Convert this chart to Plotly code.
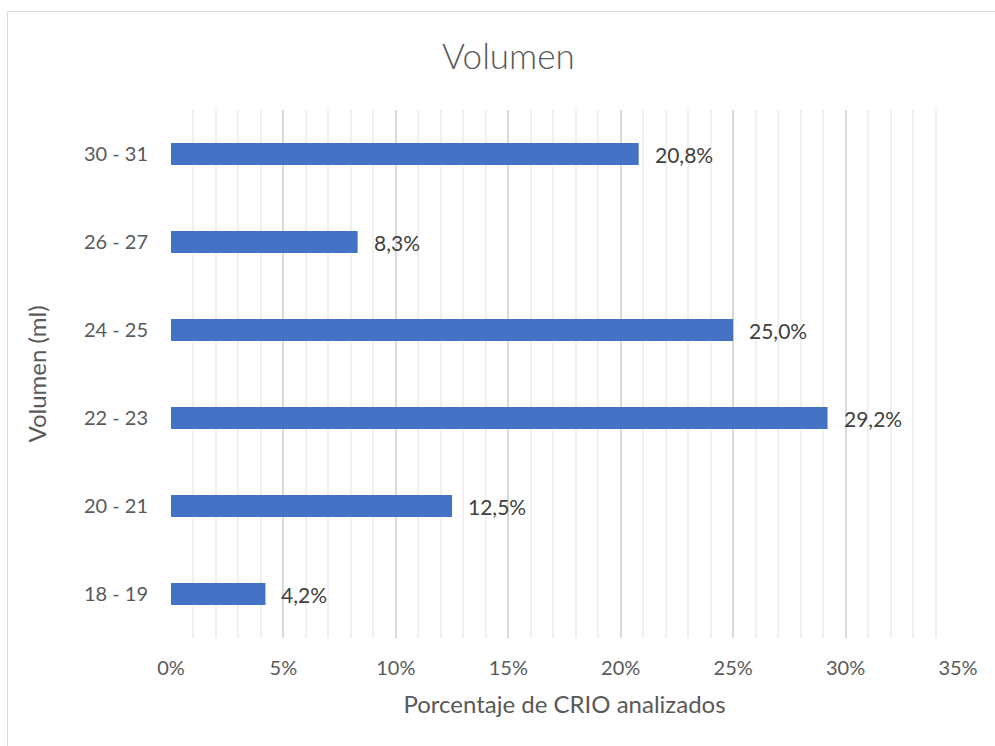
import plotly.graph_objects as go

# Volume ranges (ml) and the share of CRIO units analysed in each
categories = ["18 - 19", "20 - 21", "22 - 23", "24 - 25", "26 - 27", "30 - 31"]
percentages = [4.2, 12.5, 29.2, 25.0, 8.3, 20.8]
tick_values = [0, 5, 10, 15, 20, 25, 30, 35]
tick_labels = [f"{v}%" for v in tick_values]

FONT = "Lato, 'Open Sans', sans-serif"
TEXT = "#595959"

fig = go.Figure(
    go.Bar(
        x=percentages,
        y=categories,
        orientation="h",
        marker=dict(color="#4472C4", line=dict(width=0)),
        hoverinfo="x+y",
    )
)

# Value labels placed just to the right of each bar
for cat, val in zip(categories, percentages):
    fig.add_annotation(
        x=val, y=cat, xref="x", yref="y",
        text=f"{val:.1f}%".replace(".", ","),
        showarrow=False, xanchor="left", xshift=14,
        font=dict(family=FONT, size=21, color="#404040"),
    )

# Light frame around the whole chart
fig.add_shape(
    type="rect", xref="paper", yref="paper",
    x0=-0.2078, x1=1.06, y0=-0.22, y1=1.1866,
    line=dict(color="#d9d9d9", width=1), fillcolor="rgba(0,0,0,0)", layer="below",
)

fig.update_layout(
    width=995, height=746,
    margin=dict(l=171, r=37, t=110, b=108),
    paper_bgcolor="white", plot_bgcolor="white",
    separators=",.",
    bargap=0.75,
    showlegend=False,
    title=dict(
        text="Volumen", x=0.511, xref="container", xanchor="center",
        y=1 - 57 / 746, yref="container", yanchor="middle",
        font=dict(family=FONT, size=35, color=TEXT, weight=300),
    ),
    xaxis=dict(
        range=[0, 35], tickvals=tick_values, ticktext=tick_labels,
        showgrid=True, gridcolor="#d9d9d9", gridwidth=1.5,
        minor=dict(dtick=1, showgrid=True, gridcolor="#f0f0f0", gridwidth=1.5),
        zeroline=False, showline=False, ticks="",
        ticklabelstandoff=16,
        tickfont=dict(family=FONT, size=20, color=TEXT),
        title=dict(text="Porcentaje de CRIO analizados", standoff=18,
                   font=dict(family=FONT, size=24, color=TEXT)),
        fixedrange=True,
    ),
    yaxis=dict(
        categoryorder="array", categoryarray=categories,
        showgrid=False, zeroline=False, showline=False, ticks="",
        ticklabelstandoff=22,
        tickfont=dict(family=FONT, size=20, color=TEXT),
        title=dict(text="Volumen (ml)", standoff=30,
                   font=dict(family=FONT, size=24, color=TEXT)),
        fixedrange=True,
    ),
)

fig.write_html("out.html")
